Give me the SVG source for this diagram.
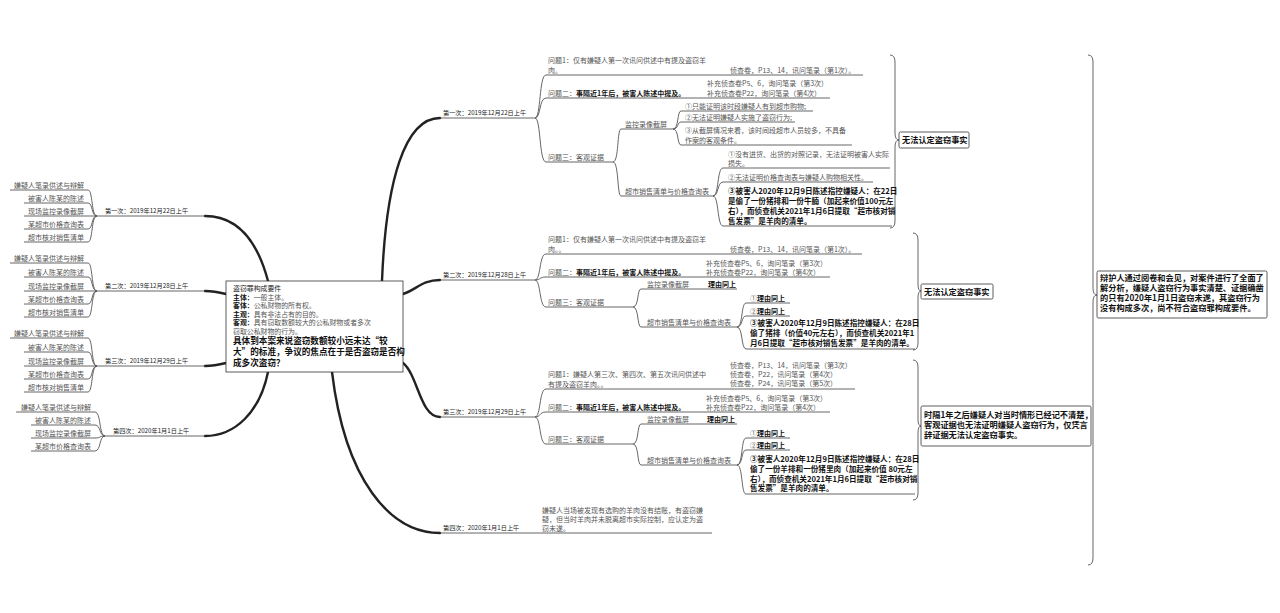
<svg xmlns="http://www.w3.org/2000/svg" width="1280" height="613" viewBox="0 0 1280 613">
<style>
text{font-family:"Noto Sans CJK SC","Noto Sans",sans-serif;font-size:7px;fill:#555}
.b{font-weight:bold;fill:#111}
.lb{font-size:6.2px;fill:#222}
.c{font-size:6.9px}
.h{fill:#222}
.cb{font-size:8.6px;font-weight:bold;fill:#111}
.bx{font-size:8.2px;font-weight:bold;fill:#111}
.bt{font-size:7.6px}
.ln{fill:none;stroke:#555;stroke-width:0.9}
.tk{fill:none;stroke:#222;stroke-width:2.4;stroke-linecap:round}
.br{fill:none;stroke:#555;stroke-width:0.9}
.box{fill:#fff;stroke:#333;stroke-width:0.8}
</style>
<rect width="1280" height="613" fill="#fff"/>

<g id="connectors">
<path class="tk" d="M382,281 C386,180 405,118 440,118"/>
<path class="tk" d="M403,294 C416,290 422,280 440,280"/>
<path class="tk" d="M403,363 C418,375 420,417 440,417"/>
<path class="tk" d="M332,372 C345,480 390,533 440,533"/>
<path class="tk" d="M268,281 C255,232 232,216 205,216"/>
<path class="tk" d="M226,294 C218,292 212,291 205,291"/>
<path class="tk" d="M226,363 C218,365 212,366 205,366"/>
<path class="tk" d="M268,372 C260,412 235,436 205,436"/>
<path class="ln" d="M440,118 L535,118 M440,280 L535,280 M440,417 L535,417 M440,533 L712,533"/>
<path class="ln" d="M205,216 L97,216 M205,291 L97,291 M205,366 L97,366 M205,436 L105,436"/>
<path class="ln" d="M535,118 C541,118 539,75 546,75 L863,75 M535,118 C541,118 539,98 546,98 L830,98 M535,118 C541,118 539,162 546,162 L613,162"/>
<path class="ln" d="M613,162 C619,162 617,129 621,129 L673,129 M613,162 C619,162 617,196 621,196 L713,196"/>
<path class="ln" d="M673,129 C679,129 677,111 681,111 L813,111 M673,129 C679,129 677,122 681,122 L795,122 M673,129 C679,129 677,145 681,145 L852,145"/>
<path class="ln" d="M713,196 C719,196 717,168 723,168 L890,168 M713,196 C719,196 717,182 723,182 L873,182 M713,196 C719,196 717,226 723,226 L892,226"/>
<path class="ln" d="M535,280 C541,280 539,254 546,254 L862,254 M535,280 C541,280 539,277 546,277 L830,277 M535,280 C541,280 539,307 546,307 L633,307"/>
<path class="ln" d="M633,307 C639,307 637,289 641,289 L737,289 M633,307 C639,307 637,327 641,327 L737,327"/>
<path class="ln" d="M737,327 C743,327 741,303 746,303 L790,303 M737,327 C743,327 741,316 746,316 L790,316 M737,327 C743,327 741,349 746,349 L915,349"/>
<path class="ln" d="M535,417 C541,417 539,389 546,389 L855,389 M535,417 C541,417 539,412 546,412 L830,412 M535,417 C541,417 539,444 546,444 L633,444"/>
<path class="ln" d="M633,444 C639,444 637,424 641,424 L737,424 M633,444 C639,444 637,465 641,465 L737,465"/>
<path class="ln" d="M737,465 C743,465 741,438 746,438 L790,438 M737,465 C743,465 741,450 746,450 L790,450 M737,465 C743,465 741,494 746,494 L915,494"/>
<path class="ln" d="M97,216 C91,216 93,190 88,190 L10,190 M97,216 C91,216 93,203 88,203 L24,203 M97,216 L24,216 M97,216 C91,216 93,229 88,229 L24,229 M97,216 C91,216 93,242 88,242 L24,242"/>
<path class="ln" d="M97,291 C91,291 93,263 88,263 L10,263 M97,291 C91,291 93,277 88,277 L24,277 M97,291 L24,291 M97,291 C91,291 93,304 88,304 L24,304 M97,291 C91,291 93,317 88,317 L24,317"/>
<path class="ln" d="M97,366 C91,366 93,338 88,338 L10,338 M97,366 C91,366 93,352 88,352 L24,352 M97,366 L24,366 M97,366 C91,366 93,379 88,379 L24,379 M97,366 C91,366 93,392 88,392 L24,392"/>
<path class="ln" d="M105,436 C99,436 101,412 95,412 L16,412 M105,436 C99,436 101,425 95,425 L31,425 M105,436 C99,436 101,438 95,438 L31,438 M105,436 C99,436 101,451 95,451 L31,451"/>
<path class="br" d="M890,55 Q895,55 895,62 L895,133 Q895,140 899,140 Q895,140 895,147 L895,221 Q895,228 890,228"/>
<path class="br" d="M913,233 Q918,233 918,240 L918,284 Q918,291 921,291 Q918,291 918,298 L918,343 Q918,350 913,350"/>
<path class="br" d="M913,360 Q918,360 918,367 L918,419 Q918,426 921,426 Q918,426 918,433 L918,493 Q918,500 913,500"/>
<path class="br" d="M1088,55 Q1093,55 1093,62 L1093,288 Q1093,295 1097,295 Q1093,295 1093,302 L1093,558 Q1093,565 1088,565"/>
</g>

<g id="center">
<rect class="box" x="226" y="281" width="177" height="91"/>
<text x="233" y="291" class="c h">盗窃罪构成要件</text>
<text x="233" y="299.5" class="c"><tspan class="b">主体：</tspan>一般主体。</text>
<text x="233" y="308" class="c"><tspan class="b">客体：</tspan>公私财物的所有权。</text>
<text x="233" y="316.5" class="c"><tspan class="b">主观：</tspan>具有非法占有的目的。</text>
<text x="233" y="325" class="c"><tspan class="b">客观：</tspan>具有窃取数额较大的公私财物或者多次</text>
<text x="233" y="333.5" class="c">窃取公私财物的行为。</text>
<text x="233" y="344" class="cb">具体到本案来说盗窃数额较小远未达“较</text>
<text x="233" y="355" class="cb">大”的标准，争议的焦点在于是否盗窃是否构</text>
<text x="233" y="366" class="cb">成多次盗窃？</text>
</g>

<g id="left1">
<text x="105" y="213" class="lb">第一次：2019年12月22日上午</text>
<text x="84" y="187.5" text-anchor="end">嫌疑人笔录供述与辩解</text>
<text x="84" y="200.5" text-anchor="end">被害人陈某的陈述</text>
<text x="84" y="213.5" text-anchor="end">现场监控录像截屏</text>
<text x="84" y="226.5" text-anchor="end">某超市价格查询表</text>
<text x="84" y="239.5" text-anchor="end">超市核对销售清单</text>
</g>
<g id="left2">
<text x="105" y="288" class="lb">第二次：2019年12月28日上午</text>
<text x="84" y="260.5" text-anchor="end">嫌疑人笔录供述与辩解</text>
<text x="84" y="274.5" text-anchor="end">被害人陈某的陈述</text>
<text x="84" y="288.5" text-anchor="end">现场监控录像截屏</text>
<text x="84" y="301.5" text-anchor="end">某超市价格查询表</text>
<text x="84" y="314.5" text-anchor="end">超市核对销售清单</text>
</g>
<g id="left3">
<text x="105" y="363" class="lb">第三次：2019年12月29日上午</text>
<text x="84" y="335.5" text-anchor="end">嫌疑人笔录供述与辩解</text>
<text x="84" y="349.5" text-anchor="end">被害人陈某的陈述</text>
<text x="84" y="363.5" text-anchor="end">现场监控录像截屏</text>
<text x="84" y="376.5" text-anchor="end">某超市价格查询表</text>
<text x="84" y="389.5" text-anchor="end">超市核对销售清单</text>
</g>
<g id="left4">
<text x="113" y="433" class="lb">第四次：2020年1月1日上午</text>
<text x="91" y="409.5" text-anchor="end">嫌疑人笔录供述与辩解</text>
<text x="91" y="422.5" text-anchor="end">被害人陈某的陈述</text>
<text x="91" y="435.5" text-anchor="end">现场监控录像截屏</text>
<text x="91" y="448.5" text-anchor="end">某超市价格查询表</text>
</g>

<g id="branch1">
<text x="443" y="115" class="lb">第一次：2019年12月22日上午</text>
<text x="548" y="62.5">问题1：仅有嫌疑人第一次讯问供述中有提及盗窃羊</text>
<text x="548" y="72.5">肉。</text>
<text x="730" y="72.5">侦查卷，P13、14，讯问笔录（第1次）。</text>
<text x="548" y="95.5">问题二：<tspan class="b">事隔近1年后，被害人陈述中提及。</tspan></text>
<text x="707" y="85.5">补充侦查卷P5、6，询问笔录（第3次）</text>
<text x="707" y="95.5">补充侦查卷P22，询问笔录（第4次）</text>
<text x="548" y="159.5">问题三：客观证据</text>
<text x="625" y="126.5">监控录像截屏</text>
<text x="685" y="109">①只能证明该时段嫌疑人有到超市购物;</text>
<text x="685" y="120">②无法证明嫌疑人实施了盗窃行为;</text>
<text x="685" y="133">③从截屏情况来看，该时间段超市人员较多，不具备</text>
<text x="685" y="142.5">作案的客观条件。</text>
<text x="625" y="193.5">超市销售清单与价格查询表</text>
<text x="728" y="156.5">①没有进货、出货的对照记录，无法证明被害人实际</text>
<text x="728" y="165.5">损失。</text>
<text x="728" y="179.5">②无法证明价格查询表与嫌疑人购物相关性。</text>
<text x="728" y="194" class="b bt">③被害人2020年12月9日陈述指控嫌疑人：在22日</text>
<text x="728" y="204" class="b bt">是偷了一份猪排和一份牛腩（加起来价值100元左</text>
<text x="728" y="214" class="b bt">右），而侦查机关2021年1月6日提取“超市核对销</text>
<text x="728" y="223.5" class="b bt">售发票”是羊肉的清单。</text>
</g>
<g id="result1">
<rect class="box" x="899" y="132" width="70" height="16" rx="1.5"/>
<text x="902" y="143" class="bx">无法认定盗窃事实</text>
</g>

<g id="branch2">
<text x="443" y="277" class="lb">第二次：2019年12月28日上午</text>
<text x="548" y="241.5">问题1：仅有嫌疑人第一次讯问供述中有提及盗窃羊</text>
<text x="548" y="251.5">肉。。</text>
<text x="730" y="251.5">侦查卷，P13、14，讯问笔录（第1次）。</text>
<text x="548" y="274.5">问题二：<tspan class="b">事隔近1年后，被害人陈述中提及。</tspan></text>
<text x="706" y="265.5">补充侦查卷P5、6，询问笔录（第3次）</text>
<text x="706" y="274.5">补充侦查卷P22，询问笔录（第4次）</text>
<text x="548" y="304.5">问题三：客观证据</text>
<text x="647" y="286.5">监控录像截屏</text>
<text x="708" y="286.5" class="b">理由同上</text>
<text x="647" y="324.5">超市销售清单与价格查询表</text>
<text x="750" y="300.5">①<tspan class="b">理由同上</tspan></text>
<text x="750" y="313.5">②<tspan class="b">理由同上</tspan></text>
<text x="750" y="326" class="b bt">③被害人2020年12月9日陈述指控嫌疑人：在28日</text>
<text x="750" y="336" class="b bt">偷了猪排（价值40元左右），而侦查机关2021年1</text>
<text x="750" y="346" class="b bt">月6日提取“超市核对销售发票”是羊肉的清单。</text>
</g>
<g id="result2">
<rect class="box" x="921" y="284" width="72" height="15" rx="1.5"/>
<text x="924" y="294.5" class="bx">无法认定盗窃事实</text>
</g>

<g id="branch3">
<text x="443" y="414" class="lb">第三次：2019年12月29日上午</text>
<text x="548" y="376.5">问题1：嫌疑人第三次、第四次、第五次讯问供述中</text>
<text x="548" y="386.5">有提及盗窃羊肉。。</text>
<text x="730" y="367.5">侦查卷，P13、14，讯问笔录（第3次）</text>
<text x="730" y="376.5">侦查卷，P22，讯问笔录（第4次）</text>
<text x="730" y="385.5">侦查卷，P24，讯问笔录（第5次）</text>
<text x="548" y="409.5">问题二：<tspan class="b">事隔近1年后，被害人陈述中提及。</tspan></text>
<text x="706" y="400.5">补充侦查卷P5、6，询问笔录（第3次）</text>
<text x="706" y="409.5">补充侦查卷P22，询问笔录（第4次）</text>
<text x="548" y="441.5">问题三：客观证据</text>
<text x="647" y="421.5">监控录像截屏</text>
<text x="707" y="421.5" class="b">理由同上</text>
<text x="647" y="462.5">超市销售清单与价格查询表</text>
<text x="750" y="435.5">①<tspan class="b">理由同上</tspan></text>
<text x="750" y="447.5">②<tspan class="b">理由同上</tspan></text>
<text x="750" y="462" class="b bt">③被害人2020年12月9日陈述指控嫌疑人：在28日</text>
<text x="750" y="472" class="b bt">偷了一份羊排和一份猪里肉（加起来价值 80元左</text>
<text x="750" y="481.5" class="b bt">右），而侦查机关2021年1月6日提取“超市核对销</text>
<text x="750" y="491" class="b bt">售发票”是羊肉的清单。</text>
</g>
<g id="result3">
<rect class="box" x="921" y="406" width="170" height="40" rx="1.5"/>
<text x="924" y="417.5" class="bx">时隔1年之后嫌疑人对当时情形已经记不清楚，</text>
<text x="924" y="427.5" class="bx">客观证据也无法证明嫌疑人盗窃行为，仅凭言</text>
<text x="924" y="437.5" class="bx">辞证据无法认定盗窃事实。</text>
</g>

<g id="branch4">
<text x="443" y="530" class="lb">第四次：2020年1月1日上午</text>
<text x="542" y="512.5">嫌疑人当场被发现有选购的羊肉没有结账，有盗窃嫌</text>
<text x="542" y="522">疑，但当时羊肉并未脱离超市实际控制，应认定为盗</text>
<text x="542" y="531">窃未遂。</text>
</g>

<g id="conclusion">
<rect class="box" x="1097" y="271" width="170" height="47" rx="1.5"/>
<text x="1100" y="281" class="bx">辩护人通过阅卷和会见，对案件进行了全面了</text>
<text x="1100" y="291" class="bx">解分析，嫌疑人盗窃行为事实清楚、证据确凿</text>
<text x="1100" y="301" class="bx">的只有2020年1月1日盗窃未遂，其盗窃行为</text>
<text x="1100" y="311" class="bx">没有构成多次，尚不符合盗窃罪构成要件。</text>
</g>
</svg>
